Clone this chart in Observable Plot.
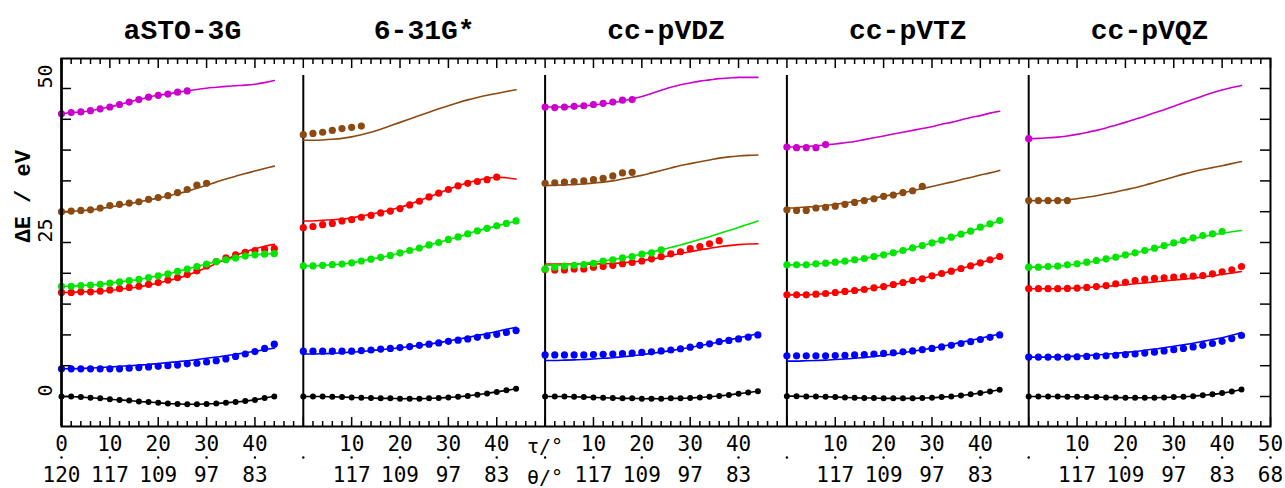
<!DOCTYPE html>
<html><head><meta charset="utf-8">
<script src="https://cdn.jsdelivr.net/npm/d3@7"></script>
<script src="https://cdn.jsdelivr.net/npm/@observablehq/plot@0.6"></script>
<style>html,body{margin:0;padding:0;background:#fff;}</style>
</head><body><div id="chart"></div>
<script>
// ---------- categories & tick labels ----------
const basisSets = ["aSTO-3G", "6-31G*", "cc-pVDZ", "cc-pVTZ", "cc-pVQZ"];
const tauGrid = [0,2,4,6,8,10,12,14,16,18,20,22,24,26,28,30,32,34,36,38,40,42,44];
const tauTickVals = [0, 10, 20, 30, 40, 50];
const tauTickLabels = ["0", "10", "20", "30", "40", "50"];
const thetaTickLabels = ["120", "117", "109", "97", "83", "68"];
const yLabelVals = [0, 25, 50];
const seriesNames = ["black", "blue", "red", "green", "brown", "magenta"];

// ---------- aSTO-3G ----------
const sto_black = [0,0,-0.1,-0.2,-0.3,-0.45,-0.55,-0.65,-0.8,-0.9,-1.0,-1.15,-1.2,-1.25,-1.25,-1.2,-1.15,-1.0,-0.9,-0.75,-0.55,-0.25,0.0];
const sto_blue_pts = [4.5,4.5,4.5,4.5,4.5,4.5,4.5,4.6,4.7,4.8,4.9,5.0,5.1,5.3,5.4,5.6,5.8,6.1,6.5,6.9,7.3,7.8,8.5];
const sto_blue_line = [4.5,4.5,4.55,4.6,4.7,4.8,4.9,5.0,5.1,5.2,5.35,5.5,5.65,5.8,6.0,6.2,6.4,6.6,6.85,7.1,7.35,7.6,7.85];
const sto_red_pts = [16.9,16.9,17.0,17.0,17.1,17.3,17.5,17.7,17.9,18.2,18.5,18.9,19.3,19.8,20.4,21.2,21.9,22.5,23.0,23.4,23.7,23.9,24.0];
const sto_red_line = [16.9,16.9,17.0,17.0,17.1,17.2,17.4,17.6,17.8,18.1,18.4,18.8,19.2,19.7,20.3,20.9,21.6,22.3,22.9,23.5,24.0,24.4,24.7];
const sto_green_pts = [17.9,17.9,18.0,18.1,18.2,18.4,18.6,18.8,19.0,19.3,19.6,19.9,20.3,20.7,21.1,21.5,21.9,22.2,22.5,22.8,23.0,23.1,23.2];
const sto_green_line = [17.9,17.9,18.0,18.1,18.2,18.4,18.6,18.8,19.0,19.3,19.6,19.9,20.3,20.7,21.1,21.5,21.9,22.2,22.5,22.8,23.0,23.1,23.2];
const sto_brown_pts = [30.0,30.1,30.2,30.3,30.6,31.0,31.2,31.4,31.6,32.0,32.3,32.6,33.1,33.6,34.3,34.6];
const sto_brown_line = [30.0,30.05,30.15,30.3,30.5,30.75,31.0,31.3,31.6,31.9,32.2,32.55,32.9,33.3,33.8,34.3,34.8,35.3,35.75,36.2,36.6,37.0,37.4];
const sto_magenta_pts = [45.9,46.1,46.2,46.4,46.7,47.0,47.4,47.8,48.2,48.6,48.9,49.1,49.4,49.6];
const sto_magenta_line = [45.9,46.1,46.2,46.4,46.7,47.0,47.4,47.8,48.2,48.6,48.9,49.1,49.4,49.6,49.85,50.05,50.2,50.35,50.45,50.55,50.7,50.95,51.3];

// ---------- 6-31G* ----------
const g631_black = [0,0,0,-0.05,-0.1,-0.15,-0.2,-0.25,-0.3,-0.3,-0.35,-0.35,-0.35,-0.3,-0.25,-0.15,-0.05,0.1,0.3,0.5,0.75,1.0,1.25];
const g631_blue_pts = [7.35,7.35,7.35,7.35,7.35,7.35,7.45,7.55,7.7,7.8,7.95,8.1,8.3,8.5,8.7,8.95,9.15,9.35,9.6,9.85,10.1,10.4,10.7];
const g631_blue_line = [6.9,6.9,6.95,7.0,7.1,7.2,7.3,7.45,7.6,7.75,7.9,8.1,8.3,8.5,8.75,9.0,9.3,9.6,9.9,10.2,10.55,10.9,11.25];
const g631_red_pts = [27.4,27.6,27.9,28.1,28.5,28.7,29.1,29.4,29.8,30.1,30.5,31.1,31.7,32.4,33.0,33.6,34.2,34.6,34.9,35.2,35.6];
const g631_red_line = [28.5,28.5,28.6,28.7,28.8,29.0,29.3,29.6,29.9,30.3,30.7,31.2,31.8,32.4,33.0,33.6,34.2,34.7,35.1,35.4,35.6,35.5,35.3];
const g631_green_pts = [21.2,21.2,21.3,21.4,21.5,21.7,22.0,22.3,22.6,22.9,23.3,23.7,24.1,24.6,25.0,25.5,25.9,26.4,26.9,27.3,27.7,28.1,28.5];
const g631_green_line = [21.2,21.2,21.3,21.4,21.5,21.7,22.0,22.3,22.6,22.9,23.3,23.7,24.1,24.6,25.0,25.5,25.9,26.4,26.9,27.3,27.7,28.1,28.5];
const g631_brown_pts = [42.5,42.7,42.9,43.2,43.5,43.7,43.9];
const g631_brown_line = [41.6,41.6,41.65,41.75,41.9,42.15,42.5,42.9,43.4,43.95,44.5,45.05,45.6,46.15,46.7,47.2,47.7,48.15,48.55,48.9,49.2,49.5,49.8];

// ---------- cc-pVDZ ----------
const dz_black = [0,0,0,-0.05,-0.1,-0.15,-0.2,-0.25,-0.3,-0.3,-0.35,-0.35,-0.35,-0.3,-0.3,-0.25,-0.15,-0.05,0.1,0.25,0.45,0.65,0.85];
const dz_blue_pts = [6.75,6.75,6.75,6.75,6.75,6.8,6.85,6.9,6.95,7.05,7.15,7.25,7.4,7.55,7.75,8.0,8.3,8.55,8.9,9.1,9.35,9.65,10.0];
const dz_blue_line = [5.85,5.85,5.9,5.95,6.0,6.1,6.2,6.3,6.45,6.6,6.8,7.0,7.2,7.45,7.7,7.95,8.25,8.55,8.85,9.2,9.5,9.85,10.2];
const dz_red_pts = [20.6,20.55,20.55,20.7,20.7,21.0,21.1,21.3,21.55,21.75,22.0,22.35,22.7,23.15,23.5,24.0,24.35,24.8,25.3];
const dz_red_line = [21.5,21.5,21.5,21.5,21.5,21.5,21.55,21.6,21.7,21.85,22.05,22.3,22.6,22.9,23.2,23.5,23.8,24.05,24.3,24.5,24.65,24.75,24.8];
const dz_green_pts = [20.7,21.0,21.15,21.3,21.4,21.6,22.0,22.2,22.5,22.7,23.1,23.3,23.8];
const dz_green_line = [21.3,21.3,21.35,21.45,21.6,21.8,22.0,22.25,22.5,22.8,23.1,23.45,23.8,24.2,24.6,25.05,25.5,25.95,26.45,26.95,27.45,27.95,28.5];
const dz_brown_pts = [34.6,34.7,34.8,34.9,35.0,35.2,35.4,35.8,36.3,36.4];
const dz_brown_line = [34.25,34.3,34.35,34.4,34.5,34.65,34.8,35.0,35.3,35.6,35.9,36.3,36.7,37.1,37.5,37.8,38.1,38.4,38.7,38.9,39.05,39.15,39.2];
const dz_magenta_pts = [47.0,46.9,47.0,47.1,47.2,47.4,47.6,47.8,48.1,48.2];
const dz_magenta_line = [47.0,47.0,47.0,47.1,47.2,47.3,47.5,47.7,48.0,48.3,48.7,49.2,49.7,50.2,50.6,50.9,51.2,51.4,51.6,51.7,51.8,51.8,51.8];

// ---------- cc-pVTZ ----------
const tz_black = [0.05,0.05,0,0,-0.05,-0.1,-0.15,-0.2,-0.25,-0.25,-0.3,-0.3,-0.3,-0.3,-0.25,-0.2,-0.1,0,0.15,0.35,0.55,0.8,1.1];
const tz_blue_pts = [6.6,6.6,6.6,6.6,6.6,6.65,6.7,6.75,6.8,6.9,7.0,7.1,7.25,7.4,7.6,7.8,8.05,8.3,8.6,8.9,9.25,9.6,10.0];
const tz_blue_line = [5.75,5.75,5.8,5.85,5.9,6.0,6.1,6.2,6.35,6.5,6.7,6.9,7.1,7.35,7.6,7.85,8.15,8.45,8.8,9.1,9.45,9.8,10.15];
const tz_red_pts = [16.5,16.5,16.5,16.61,16.72,16.88,17.05,17.21,17.37,17.64,17.86,18.18,18.51,18.83,19.1,19.59,19.97,20.35,20.78,21.21,21.7,22.19,22.73];
const tz_red_line = [16.5,16.5,16.5,16.6,16.7,16.85,17.0,17.2,17.4,17.62,17.86,18.16,18.48,18.82,19.16,19.55,19.95,20.36,20.78,21.22,21.7,22.2,22.7];
const tz_green_pts = [21.37,21.37,21.37,21.54,21.65,21.81,21.97,22.19,22.4,22.73,23.0,23.32,23.7,24.13,24.51,24.95,25.38,25.86,26.35,26.84,27.49,28.03,28.57];
const tz_green_line = [21.37,21.37,21.4,21.5,21.62,21.78,21.96,22.17,22.41,22.7,23.0,23.33,23.7,24.1,24.5,24.93,25.38,25.85,26.34,26.86,27.4,27.97,28.55];
const tz_brown_pts = [30.3,30.2,30.2,30.6,30.7,30.9,31.2,31.5,31.8,32.1,32.5,32.7,33.1,33.4,34.1];
const tz_brown_line = [30.6,30.65,30.75,30.85,31.0,31.2,31.4,31.65,31.9,32.2,32.5,32.8,33.1,33.4,33.75,34.1,34.45,34.8,35.2,35.55,35.95,36.3,36.7];
const tz_magenta_pts = [40.5,40.4,40.4,40.4,40.9];
const tz_magenta_line = [40.5,40.5,40.6,40.7,40.85,41.0,41.2,41.4,41.7,42.0,42.3,42.6,42.9,43.2,43.5,43.8,44.2,44.5,44.9,45.3,45.6,46.0,46.3];

// ---------- cc-pVQZ ----------
const qz_black = [0,0,0,0,-0.05,-0.05,-0.1,-0.1,-0.15,-0.15,-0.2,-0.2,-0.2,-0.2,-0.15,-0.1,-0.05,0.05,0.2,0.35,0.55,0.8,1.15];
const qz_blue_pts = [6.4,6.4,6.4,6.4,6.4,6.45,6.5,6.55,6.6,6.7,6.8,6.9,7.05,7.2,7.4,7.6,7.8,8.05,8.3,8.6,8.95,9.4,9.9];
const qz_blue_line = [6.4,6.4,6.4,6.45,6.5,6.55,6.65,6.75,6.85,7.0,7.15,7.3,7.5,7.7,7.9,8.15,8.4,8.65,8.95,9.25,9.55,9.95,10.4];
const qz_red_pts = [17.5,17.5,17.5,17.5,17.55,17.6,17.7,17.85,18.0,18.3,18.55,18.83,19.05,19.16,19.26,19.37,19.48,19.53,19.64,19.91,20.24,20.56,21.1];
const qz_red_line = [17.5,17.5,17.5,17.5,17.55,17.6,17.7,17.8,17.9,18.0,18.15,18.3,18.45,18.6,18.75,18.9,19.05,19.2,19.4,19.6,19.8,20.05,20.3];
const qz_green_pts = [20.99,20.99,21.1,21.15,21.37,21.54,21.81,22.08,22.35,22.62,23.0,23.32,23.7,24.08,24.51,24.95,25.32,25.76,26.13,26.4,26.78];
const qz_green_line = [21.0,21.0,21.05,21.15,21.3,21.5,21.75,22.0,22.3,22.6,22.95,23.3,23.65,24.05,24.45,24.85,25.25,25.6,25.95,26.25,26.5,26.75,26.95];
const qz_brown_pts = [31.8,31.8,31.8,31.8,31.8];
const qz_brown_line = [31.8,31.8,31.8,31.85,31.95,32.1,32.35,32.6,32.9,33.2,33.55,33.9,34.3,34.75,35.2,35.65,36.1,36.5,36.85,37.15,37.45,37.8,38.15];
const qz_magenta_pts = [41.85];
const qz_magenta_line = [41.85,41.9,42.0,42.1,42.3,42.55,42.85,43.2,43.6,44.05,44.5,45.0,45.5,46.05,46.55,47.1,47.7,48.25,48.8,49.3,49.75,50.15,50.5];

// ---------- tables built from the arrays ----------
const pointSets = [
  {black: sto_black, blue: sto_blue_pts, red: sto_red_pts, green: sto_green_pts, brown: sto_brown_pts, magenta: sto_magenta_pts},
  {black: g631_black, blue: g631_blue_pts, red: g631_red_pts, green: g631_green_pts, brown: g631_brown_pts},
  {black: dz_black, blue: dz_blue_pts, red: dz_red_pts, green: dz_green_pts, brown: dz_brown_pts, magenta: dz_magenta_pts},
  {black: tz_black, blue: tz_blue_pts, red: tz_red_pts, green: tz_green_pts, brown: tz_brown_pts, magenta: tz_magenta_pts},
  {black: qz_black, blue: qz_blue_pts, red: qz_red_pts, green: qz_green_pts, brown: qz_brown_pts, magenta: qz_magenta_pts}
];
const lineSets = [
  {black: sto_black, blue: sto_blue_line, red: sto_red_line, green: sto_green_line, brown: sto_brown_line, magenta: sto_magenta_line},
  {black: g631_black, blue: g631_blue_line, red: g631_red_line, green: g631_green_line, brown: g631_brown_line},
  {black: dz_black, blue: dz_blue_line, red: dz_red_line, green: dz_green_line, brown: dz_brown_line, magenta: dz_magenta_line},
  {black: tz_black, blue: tz_blue_line, red: tz_red_line, green: tz_green_line, brown: tz_brown_line, magenta: tz_magenta_line},
  {black: qz_black, blue: qz_blue_line, red: qz_red_line, green: qz_green_line, brown: qz_brown_line, magenta: qz_magenta_line}
];
const PANEL = 50;
function rowsFrom(sets) {
  const rows = [];
  sets.forEach((set, p) => {
    for (const s of seriesNames) {
      const vals = set[s];
      if (!vals) continue;
      vals.forEach((v, i) => rows.push({panel: p, series: s, key: p + "-" + s, x: p * PANEL + tauGrid[i], E: v}));
    }
  });
  return rows;
}
const pointRows = rowsFrom(pointSets);
const lineRows = rowsFrom(lineSets);

// tick label rows
const tauLabelRows = [], thetaLabelRows = [], dotTickRows = [];
basisSets.forEach((b, p) => {
  tauTickVals.slice(0, 5).forEach((t, j) => {
    dotTickRows.push(p * PANEL + t);
    if (p === 0 || t > 0) {
      tauLabelRows.push({x: p * PANEL + t, label: tauTickLabels[j]});
      thetaLabelRows.push({x: p * PANEL + t, label: thetaTickLabels[j]});
    }
  });
});
dotTickRows.push(basisSets.length * PANEL);
tauLabelRows.push({x: basisSets.length * PANEL, label: tauTickLabels[5]});
thetaLabelRows.push({x: basisSets.length * PANEL, label: thetaTickLabels[5]});

// ---------- styles ----------
const colors = {black: "#000000", blue: "#0000ff", red: "#ff0000", green: "#00e600", brown: "#8b4a12", magenta: "#cc00cc"};
const W = 1285, H = 488, mL = 61, mR = 15, mT = 58, mB = 62;
const innerW = W - mL - mR, innerH = H - mT - mB;
const xMax = basisSets.length * PANEL;
const xMajor = d3.range(0, xMax + 1, 10);
const xMinor = d3.range(0, xMax + 1, 2).filter(v => v % 10 !== 0);
const yTicks = d3.range(0, 51, 5);
const monoBold = "'Liberation Mono', 'Courier New', monospace";
const monoSans = "'DejaVu Sans Mono', monospace";

const seriesMarks = seriesNames.flatMap(s => [
  Plot.line(lineRows.filter(d => d.series === s), {x: "x", y: "E", z: "key", stroke: colors[s], strokeWidth: 1.6, curve: "catmull-rom"}),
  Plot.dot(pointRows.filter(d => d.series === s), {x: "x", y: "E", fill: colors[s], r: s === "black" ? 3 : 3.6})
]);

const chart = Plot.plot({
  width: W, height: H,
  marginLeft: mL, marginRight: mR, marginTop: mT, marginBottom: mB,
  x: {domain: [0, xMax], axis: null},
  y: {domain: [-4.87, 54.87], axis: null},
  style: {background: "white", overflow: "visible"},
  marks: [
    // panel separators
    Plot.tickX([50, 100, 150, 200], {x: d => d, stroke: "black", strokeWidth: 2, insetTop: 17}),
    // tick marks
    Plot.tickX(xMinor, {x: d => d, stroke: "black", strokeWidth: 1.5, insetBottom: innerH - 6}),
    Plot.tickX(xMajor, {x: d => d, stroke: "black", strokeWidth: 1.5, insetBottom: innerH - 10}),
    Plot.tickX(xMinor, {x: d => d, stroke: "black", strokeWidth: 1.5, insetTop: innerH - 5}),
    Plot.tickX(xMajor, {x: d => d, stroke: "black", strokeWidth: 1.5, insetTop: innerH - 9}),
    Plot.tickY(yTicks, {y: d => d, stroke: "black", strokeWidth: 1.5, insetRight: innerW - 10}),
    Plot.tickY(yTicks, {y: d => d, stroke: "black", strokeWidth: 1.5, insetLeft: innerW - 10}),
    ...seriesMarks,
    Plot.frame({stroke: "black", strokeWidth: 2}),
    Plot.ruleX([0], {stroke: "black", strokeWidth: 2.5}),
    // titles
    Plot.text(basisSets, {x: (d, i) => i * PANEL + PANEL / 2, text: d => d, frameAnchor: "top", lineAnchor: "middle", dy: -28.5,
      fontSize: 28, fontWeight: "bold", fontFamily: monoBold, fill: "black"}),
    // y tick labels & title
    Plot.text(yLabelVals, {y: d => d, text: d => String(d), frameAnchor: "left", lineAnchor: "middle", dx: -16, rotate: -90,
      fontSize: 20, fontFamily: monoSans, fill: "black"}),
    Plot.text(["ΔE / eV"], {text: d => d, frameAnchor: "left", lineAnchor: "middle", dx: -39, rotate: -90,
      fontSize: 22, fontWeight: "bold", fontFamily: monoBold, fill: "black"}),
    // x tick labels
    Plot.text(tauLabelRows, {x: "x", text: "label", frameAnchor: "bottom", lineAnchor: "middle", dy: 18, fontSize: 21, fontFamily: monoSans, fill: "black"}),
    Plot.dot(dotTickRows, {x: d => d, frameAnchor: "bottom", dy: 31, r: 1.2, fill: "black"}),
    Plot.text(thetaLabelRows, {x: "x", text: "label", frameAnchor: "bottom", lineAnchor: "middle", dy: 49, fontSize: 21, fontFamily: monoSans, fill: "black"}),
    Plot.text(["τ/°"], {x: 2 * PANEL, text: d => d, frameAnchor: "bottom", lineAnchor: "middle", dy: 20, fontSize: 20, fontFamily: monoSans, fill: "black"}),
    Plot.text(["θ/°"], {x: 2 * PANEL, text: d => d, frameAnchor: "bottom", lineAnchor: "middle", dy: 51, fontSize: 20, fontFamily: monoSans, fill: "black"})
  ]
});
document.getElementById("chart").appendChild(chart);
</script>
</body></html>
